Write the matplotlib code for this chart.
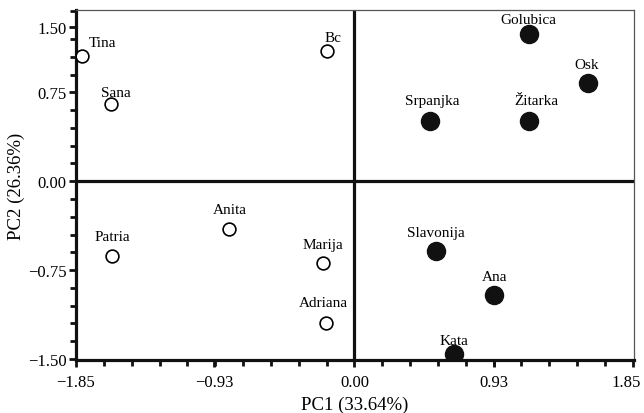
import numpy as np
import matplotlib
matplotlib.use('Agg')
import matplotlib.pyplot as plt
import matplotlib.transforms as mtransforms

# cultivars, open markers
open_names = ['Tina', 'Sana', 'Bc', 'Anita', 'Patria', 'Marija', 'Adriana']
open_pc1 = [-1.81, -1.62, -0.18, -0.83, -1.61, -0.21, -0.19]
open_pc2 = [1.06, 0.65, 1.10, -0.40, -0.63, -0.69, -1.20]

# cultivars, filled markers
fill_names = ['Golubica', 'Osk', 'Srpanjka', 'Žitarka', 'Slavonija', 'Ana', 'Kata']
fill_pc1 = [1.16, 1.55, 0.50, 1.16, 0.54, 0.93, 0.66]
fill_pc2 = [1.24, 0.83, 0.51, 0.51, -0.59, -0.96, -1.46]

x_ticks = [-1.85, -0.93, 0.0, 0.93, 1.85]
x_ticklabels = ['\u22121.85', '\u22120.93', '0.00', '0.93', '1.85']
y_ticks = [-1.50, -0.75, 0.0, 0.75, 1.30]
y_ticklabels = ['\u22121.50', '\u22120.75', '0.00', '0.75', '1.50']

plt.rcParams['font.family'] = ['Liberation Serif', 'DejaVu Serif']

fig = plt.figure(figsize=(6.44, 4.14), dpi=100)
ax = fig.add_axes([0.118, 0.128, 0.866, 0.845])

ax.axhline(0, color='#111111', lw=2.3, zorder=1)
ax.axvline(0, color='#111111', lw=2.3, zorder=1)

ax.plot(open_pc1, open_pc2, 'o', ms=9.2, mfc='white', mec='black', mew=1.2, zorder=3)
ax.plot(fill_pc1, fill_pc2, 'o', ms=13, mfc='#111111', mec='#111111', zorder=3)

# label offsets in pixels (dx, dy), default is straight above
offs = {'Tina': (20, 13), 'Sana': (5, 12), 'Bc': (6, 13), 'Golubica': (-1, 15),
		'Osk': (-1, 18), 'Srpanjka': (3, 20), 'Žitarka': (7, 20), 'Kata': (0, 14),
		'Adriana': (-2, 21)}
for names, xs, ys in [(open_names, open_pc1, open_pc2), (fill_names, fill_pc1, fill_pc2)]:
	for n, x, y in zip(names, xs, ys):
		dx, dy = offs.get(n, (0, 19))
		ax.annotate(n, (x, y), xytext=(dx*0.72, dy*0.72), textcoords='offset points',
					ha='center', va='center', fontsize=11, zorder=4)

ax.set_xlim(-1.85, 1.856)
ax.set_ylim(-1.508, 1.443)

ax.set_xticks(x_ticks)
ax.set_xticklabels(x_ticklabels)
ax.set_yticks(y_ticks)
ax.set_yticklabels(y_ticklabels)
ax.set_xticks(np.arange(-1.85, 1.86, 0.185), minor=True)
ax.set_yticks(list(np.arange(-1.5, 1.21, 0.15)) + [1.44], minor=True)
ax.tick_params(which='major', direction='out', length=5, width=2, labelsize=12, color='#111111')
ax.tick_params(axis='x', which='major', pad=5)
ax.tick_params(axis='y', which='major', pad=2)
ax.tick_params(which='minor', direction='out', length=4.5, width=2, color='#111111')

# last x label sits a bit left of its tick, as in the original
last = ax.get_xticklabels()[-1]
last.set_transform(last.get_transform() + mtransforms.ScaledTranslation(-7/100, 0, fig.dpi_scale_trans))

for s in ['left', 'bottom']:
	ax.spines[s].set_linewidth(2.3)
	ax.spines[s].set_color('#111111')
for s in ['top', 'right']:
	ax.spines[s].set_linewidth(0.9)
	ax.spines[s].set_color('#555555')

ax.set_xlabel('PC1 (33.64%)', fontsize=13.5, labelpad=4)
ax.set_ylabel('PC2 (26.36%)', fontsize=13.5, labelpad=2)

fig.savefig('out.png', dpi=100)
